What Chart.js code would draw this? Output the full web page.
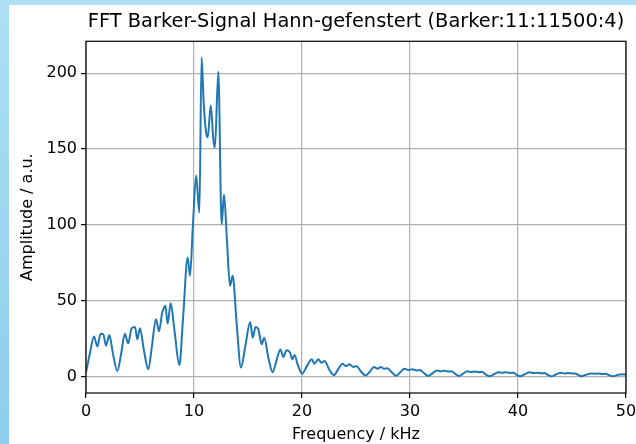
<!DOCTYPE html>
<html>
<head>
<meta charset="utf-8">
<script src="https://cdn.jsdelivr.net/npm/chart.js@4.4.1/dist/chart.umd.min.js"></script>
<style>
  html, body { margin: 0; padding: 0; }
  body {
    width: 636px; height: 444px; overflow: hidden; position: relative;
    background: linear-gradient(to bottom, #addff4, #8ecdee);
  }
  #panel { position: absolute; left: 9px; top: 5px; width: 627px; height: 439px; background: #fff; }
  canvas { display: block; }
</style>
</head>
<body>
<div id="panel"><canvas id="fftChart" width="627" height="439"></canvas></div>
<script>
// Spektrum (kHz / Amplitude)
const FREQ_KHZ = [
  0.0, 0.35, 0.74, 1.05, 1.36, 1.6, 1.85, 2.16, 2.5, 2.9,
  3.25, 3.6, 3.9, 4.23, 4.54, 4.75, 5.0, 5.35, 5.77,
  6.1, 6.48, 6.76, 7.05, 7.22, 7.35, 7.56, 7.84, 8.2, 8.64,
  9.0, 9.41, 9.63, 9.9, 10.2, 10.5, 10.7, 10.9, 11.1, 11.27, 11.55, 11.8, 11.94,
  12.25, 12.56, 12.78, 13.05, 13.33, 13.58, 13.95, 14.35,
  14.75, 15.2, 15.44, 15.7, 15.96, 16.27, 16.5, 16.9, 17.28,
  17.65, 18.0, 18.27, 18.58, 18.9, 19.1, 19.3, 19.65, 20.0,
  20.45, 20.9, 21.15, 21.5, 21.8, 22.1, 22.5, 22.96,
  23.35, 23.76, 24.07, 24.4, 24.75, 25.06, 25.45, 25.9,
  26.3, 26.67, 27.0, 27.3, 27.6, 27.9, 28.3, 28.76,
  29.1, 29.5, 29.85, 30.2, 30.6, 30.9, 31.3, 31.7,
  32.1, 32.5, 32.85, 33.2, 33.55, 33.85, 34.2, 34.56,
  34.95, 35.3, 35.65, 36.0, 36.35, 36.7, 37.0, 37.4,
  37.8, 38.2, 38.55, 38.9, 39.25, 39.55, 39.85, 40.2,
  40.6, 41.1, 41.45, 41.8, 42.15, 42.45, 42.75, 43.1,
  43.5, 44.0, 44.3, 44.65, 45.0, 45.3, 45.6, 45.9,
  46.3, 46.8, 47.1, 47.45, 47.8, 48.1, 48.45, 48.8,
  49.2, 49.6, 50.0
];
const AMPLITUDE = [
  3, 15, 26.5, 20, 28.4, 28, 20.5, 27.5, 15, 3.8,
  15, 28.4, 22, 32, 32.8, 24.7, 32, 18, 4.9,
  20, 37.9, 30, 42, 45.5, 46.7, 35, 48.4, 30, 7.7,
  40, 78.6, 66.5, 100, 132.5, 108, 210.5, 180, 162, 157.7, 178.7, 155.6, 151,
  201, 100.6, 120, 90, 60, 66.5, 35, 6,
  20, 36, 25.7, 32.8, 31.3, 21.4, 25.7, 12, 3,
  11, 18, 13, 17.4, 15.8, 11.5, 14.3, 7, 2,
  7, 11.5, 8.6, 11.5, 9.2, 10.4, 5, 1.1,
  5, 8.6, 7, 8.2, 6.5, 7, 3.5, 0.9,
  3.5, 6.4, 5.3, 6.4, 5.2, 5.6, 3, 0.7,
  3, 5.3, 4.4, 5, 4.2, 4.4, 2.4, 0.5,
  2.4, 4.2, 3.5, 4, 3.4, 3.6, 1.8, 0.5,
  2.2, 3.7, 3.1, 3.5, 3, 3.2, 1.6, 0.3,
  1.8, 3, 2.6, 3, 2.5, 2.7, 1.4, 0.3,
  1.6, 2.9, 2.4, 2.7, 2.3, 2.4, 1.3, 0.3,
  1.5, 2.6, 2.2, 2.5, 2.1, 2.2, 1.1, 0.3,
  1.3, 2.2, 1.9, 2.1, 1.8, 1.9, 1.0, 0.3,
  1.1, 1.6, 1.5
];
const X_TICKS = [0, 10, 20, 30, 40, 50];
const Y_TICKS = [0, 50, 100, 150, 200];

const FONT = 'DejaVu Sans';
const GRID = '#b0b0b0';

// Rahmen um den Plotbereich (alle vier Achsenlinien)
const frame = {
  id: 'frame',
  afterDatasetsDraw(chart) {
    const { ctx, chartArea: a } = chart;
    ctx.save();
    ctx.strokeStyle = '#000';
    ctx.lineWidth = 1.2;
    ctx.strokeRect(a.left, a.top, a.right - a.left, a.bottom - a.top);
    ctx.restore();
  }
};

new Chart(document.getElementById('fftChart'), {
  type: 'line',
  data: {
    datasets: [{
      data: FREQ_KHZ.map((f, i) => ({ x: f, y: AMPLITUDE[i] })),
      borderColor: '#1f77b4',
      borderWidth: 2,
      pointRadius: 0,
      cubicInterpolationMode: 'monotone',
      fill: false
    }]
  },
  plugins: [frame],
  options: {
    responsive: false,
    animation: false,
    layout: { padding: { left: 0, right: 0, top: 0, bottom: 0 } },
    plugins: {
      legend: { display: false },
      tooltip: { enabled: false },
      title: {
        display: true,
        fullSize: false,
        text: 'FFT Barker-Signal Hann-gefenstert (Barker:11:11500:4)',
        color: '#000',
        font: { family: FONT, size: 19.4, weight: 'normal', lineHeight: 1.2 },
        padding: { top: 5, bottom: 8 }
      }
    },
    scales: {
      x: {
        type: 'linear',
        min: 0, max: 50,
        afterFit(s) { s.height = 51; s.paddingLeft = 0; s.paddingRight = 10; },
        afterBuildTicks(s) { s.ticks = X_TICKS.map(v => ({ value: v })); },
        ticks: { color: '#000', font: { family: FONT, size: 16 }, padding: 4, maxRotation: 0 },
        grid: { color: GRID, lineWidth: 1.2, tickColor: '#000', tickLength: 5 },
        border: { display: false },
        title: {
          display: true, text: 'Frequency / kHz', color: '#000',
          font: { family: FONT, size: 16, lineHeight: 1.2 }, padding: { top: 0, bottom: 0 }
        }
      },
      y: {
        type: 'linear',
        min: -10.7, max: 221,
        afterFit(s) { s.width = 77; },
        afterBuildTicks(s) { s.ticks = Y_TICKS.map(v => ({ value: v })); },
        ticks: { color: '#000', font: { family: FONT, size: 16 }, padding: 4 },
        grid: { color: GRID, lineWidth: 1.2, tickColor: '#000', tickLength: 5 },
        border: { display: false },
        title: {
          display: true, text: 'Amplitude / a.u.', color: '#000',
          font: { family: FONT, size: 16, lineHeight: 1.2 }, padding: { top: 9, bottom: 0 }
        }
      }
    }
  }
});
</script>
</body>
</html>
